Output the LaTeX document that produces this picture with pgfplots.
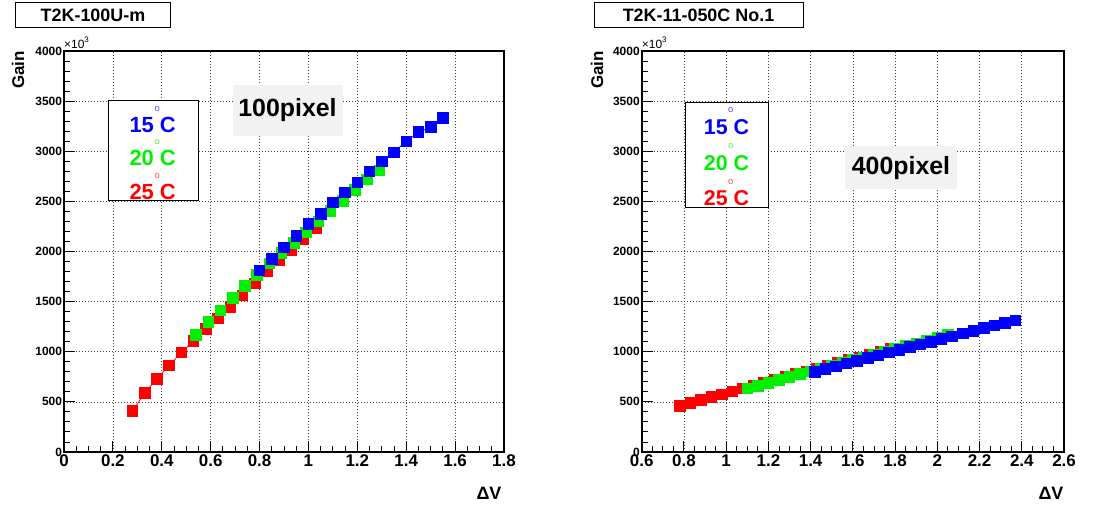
\documentclass[border=0pt]{standalone}
\usepackage{pgfplots}
\pgfplotsset{compat=1.18}
\usepackage{fontspec}
\setmainfont{Liberation Sans}
\definecolor{rblue}{RGB}{0,0,255}
\definecolor{rgreen}{RGB}{0,240,0}
\definecolor{rred}{RGB}{255,0,0}
\pgfplotsset{
  rootaxis/.style={
    scale only axis, height=401bp, anchor=south west,
    ymin=0, ymax=4000,
    ytick={0,500,1000,1500,2000,2500,3000,3500,4000},
    minor x tick num=3, minor y tick num=4,
    tick align=inside, xtick pos=bottom, ytick pos=left,
    major tick length=11bp, minor tick length=6bp,
    grid=major,
    major grid style={dash pattern=on 1bp off 2bp, black!75, line width=0.7bp},
    axis line style={line width=1.6bp},
    every tick/.style={black, line width=0.9bp},
    scaled ticks=false,
    /pgf/number format/1000 sep={},
    /pgf/number format/assume math mode=true,
    xticklabel style={font=\bfseries\fontsize{17}{17}\selectfont, yshift=1bp},
    yticklabel style={font=\bfseries\fontsize{12}{12}\selectfont, xshift=1.5bp},
  },
  sq/.style={mark=square*, mark size=5.3bp, line width=0.8bp, mark options={solid}},
}
\begin{document}
\begin{tikzpicture}[x=1bp,y=1bp]
\useasboundingbox (0,0) rectangle (1103,508);
% ---------------- left panel
\begin{axis}[rootaxis, at={(64bp,56bp)}, width=440bp,
  xmin=0, xmax=1.8, xtick={0,0.2,0.4,0.6,0.8,1,1.2,1.4,1.6,1.8}]
\addplot[sq, color=rred] coordinates {
(0.28,407)(0.33,590)(0.38,730)(0.43,863)(0.48,993)(0.53,1110)(0.58,1227)(0.63,1333)
(0.68,1450)(0.73,1563)(0.78,1683)(0.83,1800)(0.88,1910)(0.93,2010)(0.98,2120)(1.03,2230)};
\addplot[sq, color=rgreen] coordinates {
(0.54,1167)(0.59,1295)(0.64,1413)(0.69,1535)(0.74,1655)(0.79,1768)(0.84,1882)(0.89,1985)
(0.94,2085)(0.99,2190)(1.04,2300)(1.09,2405)(1.14,2507)(1.19,2612)(1.24,2718)(1.29,2810)};
\addplot[sq, color=rblue] coordinates {
(0.80,1810)(0.85,1927)(0.90,2040)(0.95,2157)(1.00,2273)(1.05,2373)(1.10,2490)(1.15,2590)
(1.20,2690)(1.25,2800)(1.30,2897)(1.35,2990)(1.40,3100)(1.45,3190)(1.50,3240)(1.55,3333)};
\end{axis}
% ---------------- right panel
\begin{axis}[rootaxis, at={(641.7bp,56bp)}, width=422.3bp,
  xmin=0.6, xmax=2.6, xtick={0.6,0.8,1,1.2,1.4,1.6,1.8,2,2.2,2.4,2.6}]
\addplot[sq, color=rred] coordinates {
(0.78,460)(0.83,489)(0.88,518)(0.93,547)(0.98,576)(1.03,605)(1.08,634)(1.13,662)
(1.18,691)(1.23,719)(1.28,748)(1.33,776)(1.38,805)(1.43,833)(1.48,861)(1.53,889)
(1.58,917)(1.63,945)(1.68,973)(1.73,1000)(1.78,1028)};
\addplot[sq, color=rgreen] coordinates {
(1.10,633)(1.15,662)(1.20,690)(1.25,719)(1.30,747)(1.35,776)(1.40,804)(1.45,832)
(1.50,861)(1.55,889)(1.60,917)(1.65,945)(1.70,973)(1.75,1001)(1.80,1029)(1.85,1057)
(1.90,1084)(1.95,1111)(2.00,1139)(2.05,1166)};
\addplot[sq, color=rblue] coordinates {
(1.42,800)(1.47,828)(1.52,855)(1.57,883)(1.62,910)(1.67,938)(1.72,965)(1.77,992)
(1.82,1020)(1.87,1047)(1.92,1074)(1.97,1101)(2.02,1128)(2.07,1155)(2.12,1181)(2.17,1208)
(2.22,1235)(2.27,1261)(2.32,1288)(2.37,1314)};
\end{axis}
% ---------------- titles
\node[draw, line width=1bp, fill=white, minimum width=154bp, minimum height=25bp, inner sep=0pt,
  font=\bfseries\fontsize{18}{18}\selectfont] at (93,492.5) {T2K-100U-m};
\node[draw, line width=1bp, fill=white, minimum width=209bp, minimum height=25bp, inner sep=0pt,
  font=\bfseries\fontsize{18}{18}\selectfont] at (698.5,492.5) {T2K-11-050C No.1};
% axis titles
\node[rotate=90, font=\bfseries\fontsize{17}{17}\selectfont] at (18,438) {Gain};
\node[rotate=90, font=\bfseries\fontsize{17}{17}\selectfont] at (597,438) {Gain};
\node[font=\bfseries\fontsize{18}{18}\selectfont] at (489,15) {ΔV};
\node[font=\bfseries\fontsize{18}{18}\selectfont] at (1051,15) {ΔV};
% x10^3
\node[anchor=south west, inner sep=0pt, font=\fontsize{12}{12}\selectfont] at (64,459) {×10\raisebox{0.5em}{\fontsize{8}{8}\selectfont 3}};
\node[anchor=south west, inner sep=0pt, font=\fontsize{12}{12}\selectfont] at (641.7,459) {×10\raisebox{0.5em}{\fontsize{8}{8}\selectfont 3}};
% pixel labels
\node[fill=black!5, minimum width=110bp, minimum height=51bp, inner sep=0pt,
  font=\bfseries\fontsize{25}{25}\selectfont] at (287.5,397.7) {100pixel};
\node[fill=black!5, minimum width=112bp, minimum height=43bp, inner sep=0pt,
  font=\bfseries\fontsize{25}{25}\selectfont] at (901,340.3) {400pixel};
% legends
\draw[line width=1bp, fill=white] (108,407) rectangle (198,307);
\node[rblue, font=\bfseries\fontsize{22}{22}\selectfont] at (152.7,383) {15 C};
\node[rgreen, font=\bfseries\fontsize{22}{22}\selectfont] at (152.7,350) {20 C};
\node[rred, font=\bfseries\fontsize{22}{22}\selectfont] at (152.7,316) {25 C};
\node[rblue!70, font=\fontsize{9.5}{9.5}\selectfont] at (157.3,398.7) {o};
\node[rgreen!70, font=\fontsize{9.5}{9.5}\selectfont] at (157.3,365.7) {o};
\node[rred!70, font=\fontsize{9.5}{9.5}\selectfont] at (157.3,331.7) {o};
\draw[line width=1bp, fill=white] (685,405.3) rectangle (768.3,300.3);
\node[rblue, font=\bfseries\fontsize{21.5}{21.5}\selectfont] at (726.5,381) {15 C};
\node[rgreen, font=\bfseries\fontsize{21.5}{21.5}\selectfont] at (726.5,345) {20 C};
\node[rred, font=\bfseries\fontsize{21.5}{21.5}\selectfont] at (726.5,310) {25 C};
\node[rblue!70, font=\fontsize{9.5}{9.5}\selectfont] at (730.7,398) {o};
\node[rgreen!70, font=\fontsize{9.5}{9.5}\selectfont] at (730.7,362) {o};
\node[rred!70, font=\fontsize{9.5}{9.5}\selectfont] at (730.7,326.3) {o};
\end{tikzpicture}
\end{document}
